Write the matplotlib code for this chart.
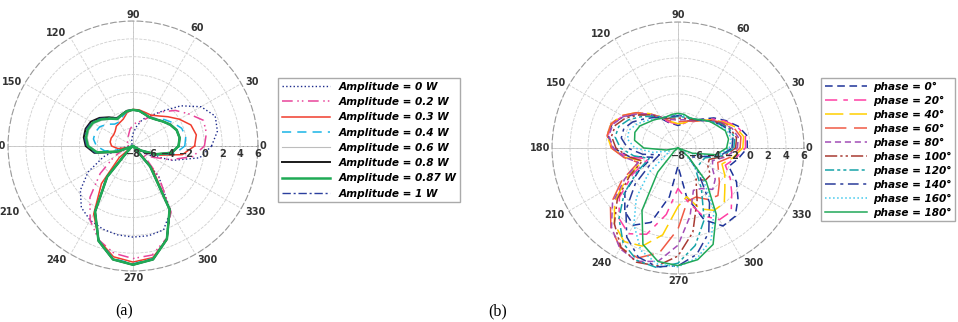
import matplotlib
matplotlib.use('Agg')
import matplotlib.pyplot as plt
import numpy as np
from matplotlib.font_manager import FontProperties
from matplotlib.transforms import offset_copy

# angles of the sampled pattern points (deg), 0..350 step 10
theta_deg = np.arange(0, 360, 10)

# ---- (a) amplitude sweep, gain in dB ----
amp_0 = [0.8, 1.6, 1.8, 0.8, -1.0, -2.9, -4.1, -4.8, -5.8, -6.6, -7.2, -7.6, -7.8, -8, -8, -8, -8, -8,
         -7.8, -6.5, -4.5, -2.2, -0.3, 1.0, 1.6, 1.9, 2.1, 2.2, 2.2, 2.0, 0.4, -3.5, -7.5, -6.0, -3.3, -0.4]
amp_02 = [0.0, 0.35, 0.4, -0.8, -1.8, -3.0, -4.2, -5.0, -5.3, -5.6, -6.1, -6.6, -6.9, -7.1, -7.2, -7.3, -7.3, -7.3,
          -7.5, -7.2, -6.8, -5.5, -3.2, -0.5, 1.6, 3.2, 4.2, 4.6, 4.4, 3.0, 0.5, -3.5, -6.5, -5.5, -3.5, -1.2]
amp_03 = [-1.1, -0.8, -1.1, -2.0, -2.9, -3.6, -4.0, -4.0, -3.9, -3.9, -4.2, -4.8, -5.0, -5.1, -5.4, -5.5, -5.4, -5.4,
          -5.6, -6.3, -7.5, -8, -6.0, -2.5, 0.8, 3.2, 4.6, 5.0, 4.7, 3.1, 0.3, -4.5, -7.5, -7.0, -5.0, -2.4]
amp_04 = [-2.2, -2.0, -2.2, -2.8, -3.4, -4.0, -4.3, -4.2, -4.0, -3.95, -4.1, -4.5, -4.9, -4.8, -4.2, -3.7, -3.5, -3.5,
          -3.9, -4.8, -6.8, -8, -7.3, -3.3, 0.5, 3.2, 4.8, 5.2, 4.8, 3.1, 0.3, -4.8, -8, -7.0, -5.0, -3.2]
amp_06 = [-2.8, -2.6, -2.7, -3.1, -3.6, -4.0, -4.3, -4.2, -4.0, -3.95, -4.05, -4.35, -4.6, -4.1, -3.5, -2.95, -2.75, -2.8,
          -3.1, -4.0, -6.3, -8, -7.5, -3.5, 0.5, 3.3, 4.9, 5.3, 4.9, 3.1, 0.2, -5.0, -8, -7.0, -5.2, -3.5]
amp_08 = [-2.9, -2.7, -2.8, -3.2, -3.7, -4.1, -4.3, -4.2, -4.0, -3.95, -4.0, -4.25, -4.4, -3.8, -3.1, -2.55, -2.35, -2.4,
          -2.7, -3.6, -6.0, -8, -7.5, -3.5, 0.5, 3.3, 4.9, 5.3, 4.9, 3.1, 0.2, -5.0, -8, -7.0, -5.3, -3.6]
amp_087 = [-2.9, -2.7, -2.8, -3.2, -3.7, -4.1, -4.3, -4.2, -4.0, -3.95, -4.05, -4.3, -4.5, -4.0, -3.35, -2.8, -2.6, -2.65,
           -2.95, -3.9, -6.2, -8, -7.5, -3.5, 0.5, 3.3, 4.9, 5.3, 4.9, 3.1, 0.2, -5.0, -8, -7.0, -5.3, -3.6]
amp_1 = [-2.9, -2.7, -2.8, -3.2, -3.7, -4.1, -4.3, -4.2, -4.0, -3.95, -4.0, -4.3, -4.45, -3.9, -3.2, -2.65, -2.45, -2.5,
         -2.8, -3.7, -6.1, -8, -7.5, -3.5, 0.5, 3.3, 4.9, 5.3, 4.9, 3.1, 0.2, -5.0, -8, -7.0, -5.3, -3.6]
amp_labels = ['Amplitude = 0 W', 'Amplitude = 0.2 W', 'Amplitude = 0.3 W', 'Amplitude = 0.4 W',
              'Amplitude = 0.6 W', 'Amplitude = 0.8 W', 'Amplitude = 0.87 W', 'Amplitude = 1 W']

# ---- (b) phase sweep, gain in dB ----
ph_0 = [-0.3, -0.2, -0.9, -1.9, -2.8, -3.8, -4.5, -4.8, -5.3, -5.5, -5.3, -5.0, -4.2, -3.2, -2.2, -1.0, -0.2, -0.1,
        -0.8, -2.5, -5.0, -3.0, -0.3, 1.2, 1.9, 0.8, -2.5, -6.0, -2.5, 0.5, 2.0, 1.9, 0.7, -0.5, -2.0, -1.2]
ph_20 = [-0.5, -0.4, -1.0, -2.0, -3.0, -3.9, -4.6, -4.9, -5.3, -5.4, -5.2, -4.9, -4.1, -3.1, -2.0, -0.9, -0.2, -0.1,
         -0.7, -2.3, -4.5, -2.2, 0.5, 2.2, 3.0, 2.2, -0.5, -3.5, -2.0, 0.0, 1.2, 1.2, -0.2, -1.3, -2.4, -1.5]
ph_40 = [-0.8, -0.6, -1.2, -2.2, -3.1, -4.0, -4.6, -4.9, -5.2, -5.3, -5.1, -4.8, -4.0, -3.0, -1.9, -0.8, -0.1, 0.0,
         -0.6, -2.0, -3.8, -1.5, 1.2, 3.0, 4.0, 3.6, 1.8, -1.5, -2.5, -0.8, 0.0, 0.0, -1.2, -2.0, -2.8, -1.8]
ph_60 = [-1.1, -0.9, -1.4, -2.3, -3.2, -4.0, -4.6, -4.8, -5.0, -5.1, -5.0, -4.7, -4.0, -3.0, -1.9, -0.8, -0.1, 0.0,
         -0.6, -1.9, -3.3, -0.8, 1.8, 3.6, 4.8, 5.0, 3.8, 1.0, -2.0, -2.2, -1.4, -1.1, -2.0, -2.8, -3.3, -2.1]
ph_80 = [-1.4, -1.2, -1.6, -2.4, -3.3, -4.0, -4.5, -4.7, -4.8, -4.9, -4.8, -4.6, -4.0, -3.1, -2.1, -1.0, -0.3, -0.2,
         -0.8, -2.0, -3.3, -1.2, 1.5, 3.5, 4.9, 5.4, 4.8, 2.8, -0.3, -3.0, -2.8, -2.0, -2.6, -3.6, -3.9, -2.5]
ph_100 = [-1.6, -1.4, -1.8, -2.5, -3.3, -4.0, -4.4, -4.6, -4.6, -4.7, -4.6, -4.5, -4.0, -3.2, -2.3, -1.3, -0.6, -0.5,
          -1.1, -2.4, -3.8, -1.8, 0.8, 3.0, 4.7, 5.5, 5.3, 4.0, 1.5, -1.8, -4.0, -3.3, -3.3, -4.2, -4.3, -2.8]
ph_120 = [-1.8, -1.6, -1.9, -2.6, -3.4, -4.0, -4.3, -4.5, -4.5, -4.5, -4.5, -4.4, -4.0, -3.4, -2.6, -1.7, -1.0, -0.9,
          -1.6, -3.0, -4.6, -2.8, -0.2, 2.2, 4.2, 5.3, 5.5, 4.8, 3.0, 0.5, -2.8, -5.0, -5.0, -5.0, -4.8, -3.0]
ph_140 = [-2.0, -1.8, -2.0, -2.7, -3.4, -4.0, -4.3, -4.4, -4.4, -4.4, -4.4, -4.4, -4.1, -3.6, -3.0, -2.2, -1.6, -1.6,
          -2.4, -4.0, -5.8, -4.5, -1.8, 1.0, 3.4, 4.9, 5.4, 5.1, 4.0, 2.0, -1.0, -4.5, -6.5, -6.0, -5.2, -3.2]
ph_160 = [-2.3, -2.0, -2.2, -2.8, -3.4, -3.9, -4.3, -4.4, -4.3, -4.3, -4.3, -4.3, -4.2, -3.8, -3.3, -2.7, -2.2, -2.3,
          -3.2, -5.2, -7.0, -6.5, -3.8, -0.8, 1.8, 4.1, 5.1, 5.2, 4.4, 2.8, 0.0, -3.8, -7.0, -7.2, -5.8, -3.4]
ph_180 = [-2.6, -2.3, -2.4, -3.0, -3.4, -3.9, -4.3, -4.4, -4.2, -4.15, -4.2, -4.3, -4.2, -3.9, -3.6, -3.1, -2.9, -3.1,
          -4.2, -6.7, -8, -8, -7.5, -4.5, 0.0, 3.4, 4.8, 5.07, 4.6, 3.4, 0.5, -3.1, -6.5, -8, -6.3, -3.7]
ph_labels = ['phase = 0°', 'phase = 20°', 'phase = 40°', 'phase = 60°', 'phase = 80°',
             'phase = 100°', 'phase = 120°', 'phase = 140°', 'phase = 160°', 'phase = 180°']

r_ticks = [-8, -6, -4, -2, 0, 2, 4, 6]
theta_ticks = [0, 30, 60, 90, 120, 150, 180, 210, 240, 270, 300, 330]

W, H = 958, 322

# pixel shift of each angle label from the rim point (right, down)
label_shift = {0: (5, 0), 30: (11, -1.5), 60: (2, -10), 90: (0, -6.5), 120: (-14, -5), 150: (-13, -1.5),
               180: (-12, 0), 210: (-15, 3.5), 240: (-14, 6), 270: (0, 7), 300: (12.5, 6), 330: (14, 3.5)}


def closed(vals):
    th = np.deg2rad(np.append(theta_deg, 360))
    return th, np.append(vals, vals[0])


def setup_polar(fig, rect):
    ax = fig.add_axes(rect, projection='polar')
    ax.set_rlim(-8, 6)
    ax.set_thetagrids(theta_ticks, labels=[''] * len(theta_ticks))
    ax.set_rgrids(r_ticks, labels=[''] * len(r_ticks))
    ax.grid(True, color='#cfcfcf', ls='--', lw=0.6)
    ax.spines['polar'].set_linestyle((0, (5, 3)))
    ax.spines['polar'].set_color('#9a9a9a')
    ax.spines['polar'].set_linewidth(0.8)
    # solid axis cross
    ax.plot(np.deg2rad([0, 0]), [-8, 6], color='#999999', lw=0.7, zorder=1)
    for a in (90, 180, 270):
        ax.plot(np.deg2rad([a, a]), [-8, 6], color='#bbbbbb', lw=0.6, zorder=1)
    for t in theta_ticks:
        dx, dy = label_shift[t]
        tr = offset_copy(ax.transData, fig=fig, x=dx, y=-dy, units='dots')
        ax.text(np.deg2rad(t), 6, str(t), transform=tr, ha='center', va='center', clip_on=False,
                fontsize=7, fontweight='bold', color='#333333')
    tr = offset_copy(ax.transData, fig=fig, x=0, y=-8, units='dots')
    for r in r_ticks:
        ax.text(0, r, str(r).replace('-', '\u2212'), transform=tr, ha='center', va='center',
                fontsize=7, fontweight='bold', color='#333333', zorder=6)
    return ax


def draw_amplitude(fig):
    ax = setup_polar(fig, [8 / W, 1 - 271 / H, 250 / W, 250 / H])
    series = [amp_0, amp_02, amp_03, amp_04, amp_06, amp_08, amp_087, amp_1]
    styles = [
        dict(color='#1c2a8c', ls=':', lw=1.0, zorder=3),
        dict(color='#e8449a', ls=(0, (7, 3, 1, 2, 1, 3)), lw=1.1, zorder=3),
        dict(color='#f03c2c', ls='-', lw=1.1, zorder=3),
        dict(color='#19b4e6', ls=(0, (6, 4)), lw=1.1, zorder=3),
        dict(color='#bdbdbd', ls='-', lw=0.8, zorder=3),
        dict(color='#1a1a1a', ls='-', lw=1.4, zorder=3),
        dict(color='#1faa55', ls='-', lw=1.8, zorder=5),
        dict(color='#2b3f9e', ls=(0, (6, 2, 1.5, 2)), lw=1.0, zorder=4),
    ]
    lines = []
    for vals, st, lab in zip(series, styles, amp_labels):
        th, r = closed(vals)
        l, = ax.plot(th, r, label=lab, **st)
        lines.append(l)
    ax.set_rlim(-8, 6)
    fp = FontProperties(weight='bold', style='italic', size=7.6)
    fig.legend(loc='upper left', bbox_to_anchor=(278 / W, 1 - 78 / H), bbox_transform=fig.transFigure,
               prop=fp, frameon=True, fancybox=False, edgecolor='#aaaaaa', framealpha=1,
               handlelength=4.6, labelspacing=0.5, borderpad=0.35, handletextpad=0.8, borderaxespad=0,
               handles=lines, labels=amp_labels)
    fig.text(124 / W, 1 - 311 / H, '(a)', ha='center', va='center', fontsize=11.5, family='Liberation Serif')


def draw_phase(fig):
    ax = setup_polar(fig, [552 / W, 1 - 274 / H, 252 / W, 252 / H])
    series = [ph_0, ph_20, ph_40, ph_60, ph_80, ph_100, ph_120, ph_140, ph_160, ph_180]
    styles = [
        dict(color='#1e3399', ls=(0, (5, 3))),
        dict(color='#ff3fa4', ls=(0, (8, 4, 3, 4))),
        dict(color='#ffd000', ls=(0, (12, 4))),
        dict(color='#f05a45', ls=(0, (14, 5))),
        dict(color='#a24db6', ls=(0, (4, 2.5))),
        dict(color='#a83a32', ls=(0, (8, 2, 1.5, 2, 1.5, 2))),
        dict(color='#16a3a8', ls=(0, (6, 2, 2, 2, 2, 2))),
        dict(color='#2a3c9a', ls=(0, (7, 3, 2, 3))),
        dict(color='#40c8ec', ls=':'),
        dict(color='#20a858', ls='-'),
    ]
    lines = []
    for vals, st, lab in zip(series, styles, ph_labels):
        th, r = closed(vals)
        l, = ax.plot(th, r, label=lab, lw=1.1, zorder=3, **st)
        lines.append(l)
    ax.set_rlim(-8, 6)
    fp = FontProperties(weight='bold', style='italic', size=7.6)
    fig.legend(loc='upper left', bbox_to_anchor=(821 / W, 1 - 78 / H), bbox_transform=fig.transFigure,
               prop=fp, frameon=True, fancybox=False, edgecolor='#aaaaaa', framealpha=1,
               handlelength=4.0, labelspacing=0.37, borderpad=0.35, handletextpad=0.6, borderaxespad=0,
               handles=lines, labels=ph_labels)
    fig.text(498 / W, 1 - 311 / H, '(b)', ha='center', va='center', fontsize=11.5, family='Liberation Serif')


if __name__ == '__main__':
    fig = plt.figure(figsize=(W / 100, H / 100), dpi=100)
    draw_amplitude(fig)
    draw_phase(fig)
    fig.savefig('out.png', dpi=100)
